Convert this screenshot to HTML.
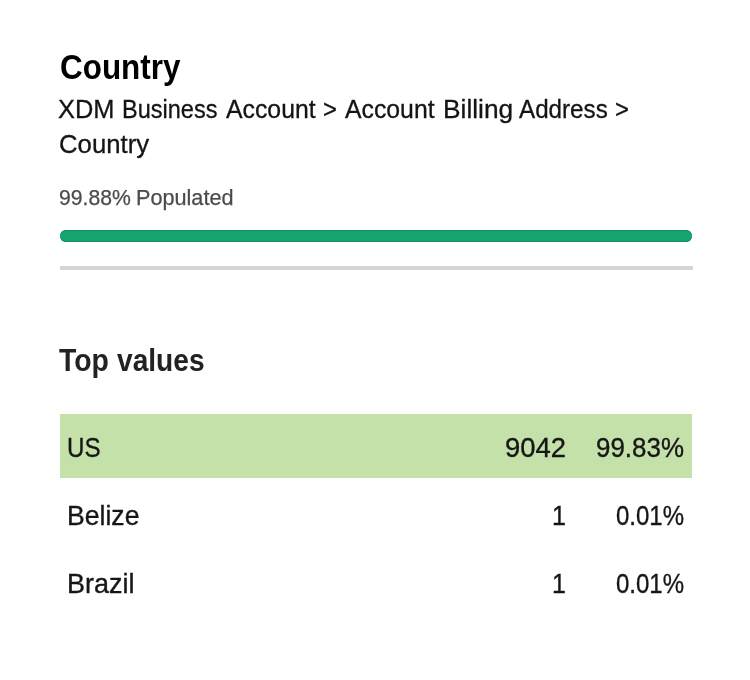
<!DOCTYPE html>
<html lang="en">
<head>
<meta charset="utf-8">
<title>Country</title>
<style>
  html, body { margin: 0; padding: 0; background: #ffffff; }
  body { width: 750px; height: 680px; position: relative; overflow: hidden;
         font-family: "Liberation Sans", sans-serif; color: #222222; }
  h1, h2, p, div { margin: 0; padding: 0; font-size: inherit; font-weight: inherit; }
  .t { position: absolute; display: inline-block; white-space: nowrap; line-height: 1; transform-origin: 0 0; }
  .bar { position: absolute; left: 60px; top: 230px; width: 632.4px; height: 12px; border-radius: 6px; background: #16a46e; box-shadow: inset 0 1px 0 #13905f, inset 0 -1px 0 #13905f; }
  .rule { position: absolute; left: 60px; top: 266px; width: 632.7px; height: 4px; background: #d5d5d5; }
  .hl { position: absolute; left: 59.7px; top: 414.2px; width: 632px; height: 63.4px; background: #c5e1aa; }
</style>
</head>
<body>
  <h1><span class="t" style="left:59.6px;top:49.0px;font-size:35px;font-weight:bold;transform:scaleX(0.8983);color:#000000;">Country</span></h1>
  <p><span class="t" style="left:58.0px;top:96.0px;font-size:26px;transform:scaleX(0.9764);color:#141414;-webkit-text-stroke:0.3px #141414;">XDM</span> <span class="t" style="left:122.3px;top:96.0px;font-size:26px;transform:scaleX(0.9047);color:#141414;-webkit-text-stroke:0.3px #141414;">Business</span> <span class="t" style="left:226.2px;top:96.0px;font-size:26px;transform:scaleX(0.9538);color:#141414;-webkit-text-stroke:0.3px #141414;">Account</span> <span class="t" style="left:323.3px;top:96.0px;font-size:26px;transform:scaleX(0.9184);color:#141414;-webkit-text-stroke:0.3px #141414;">&gt;</span> <span class="t" style="left:345.1px;top:96.0px;font-size:26px;transform:scaleX(0.9533);color:#141414;-webkit-text-stroke:0.3px #141414;">Account</span> <span class="t" style="left:443.1px;top:96.0px;font-size:26px;transform:scaleX(1.0125);color:#141414;-webkit-text-stroke:0.3px #141414;">Billing</span> <span class="t" style="left:518.5px;top:96.0px;font-size:26px;transform:scaleX(0.9302);color:#141414;-webkit-text-stroke:0.3px #141414;">Address</span> <span class="t" style="left:614.5px;top:96.0px;font-size:26px;transform:scaleX(0.9184);color:#141414;-webkit-text-stroke:0.3px #141414;">&gt;</span> <span class="t" style="left:58.5px;top:131.0px;font-size:26px;transform:scaleX(0.9896);color:#141414;-webkit-text-stroke:0.3px #141414;">Country</span></p>
  <div><span class="t" style="left:59.2px;top:187.0px;font-size:22px;transform:scaleX(0.9631);color:#4b4b4b;-webkit-text-stroke:0.25px #4b4b4b;">99.88%</span> <span class="t" style="left:136.2px;top:187.0px;font-size:22px;transform:scaleX(0.9839);color:#4b4b4b;-webkit-text-stroke:0.25px #4b4b4b;">Populated</span></div>
  <div class="bar"></div>
  <div class="rule"></div>
  <h2><span class="t" style="left:58.9px;top:345.0px;font-size:31px;font-weight:bold;transform:scaleX(0.9165);color:#222222;">Top</span> <span class="t" style="left:116.9px;top:345.0px;font-size:31px;font-weight:bold;transform:scaleX(0.9075);color:#222222;">values</span></h2>
  <div class="hl"></div>
  <div><span class="t" style="left:67.0px;top:433.0px;font-size:28.5px;transform:scaleX(0.8473);color:#161616;-webkit-text-stroke:0.35px #161616;">US</span><span class="t" style="left:505.1px;top:434.0px;font-size:27.8px;transform:scaleX(0.9877);color:#161616;-webkit-text-stroke:0.35px #161616;">9042</span><span class="t" style="left:596.3px;top:434.0px;font-size:27.8px;transform:scaleX(0.9329);color:#161616;-webkit-text-stroke:0.35px #161616;">99.83%</span></div>
  <div><span class="t" style="left:67.2px;top:502.0px;font-size:27.5px;transform:scaleX(0.9674);color:#161616;-webkit-text-stroke:0.35px #161616;">Belize</span><span class="t" style="left:552.2px;top:502.0px;font-size:27.8px;transform:scaleX(0.9);color:#161616;-webkit-text-stroke:0.35px #161616;">1</span><span class="t" style="left:616.2px;top:502.0px;font-size:27.8px;transform:scaleX(0.8637);color:#161616;-webkit-text-stroke:0.35px #161616;">0.01%</span></div>
  <div><span class="t" style="left:67.2px;top:570.0px;font-size:27.5px;transform:scaleX(0.9818);color:#161616;-webkit-text-stroke:0.35px #161616;">Brazil</span><span class="t" style="left:552.2px;top:570.0px;font-size:27.8px;transform:scaleX(0.9);color:#161616;-webkit-text-stroke:0.35px #161616;">1</span><span class="t" style="left:616.2px;top:570.0px;font-size:27.8px;transform:scaleX(0.8637);color:#161616;-webkit-text-stroke:0.35px #161616;">0.01%</span></div>
</body>
</html>
